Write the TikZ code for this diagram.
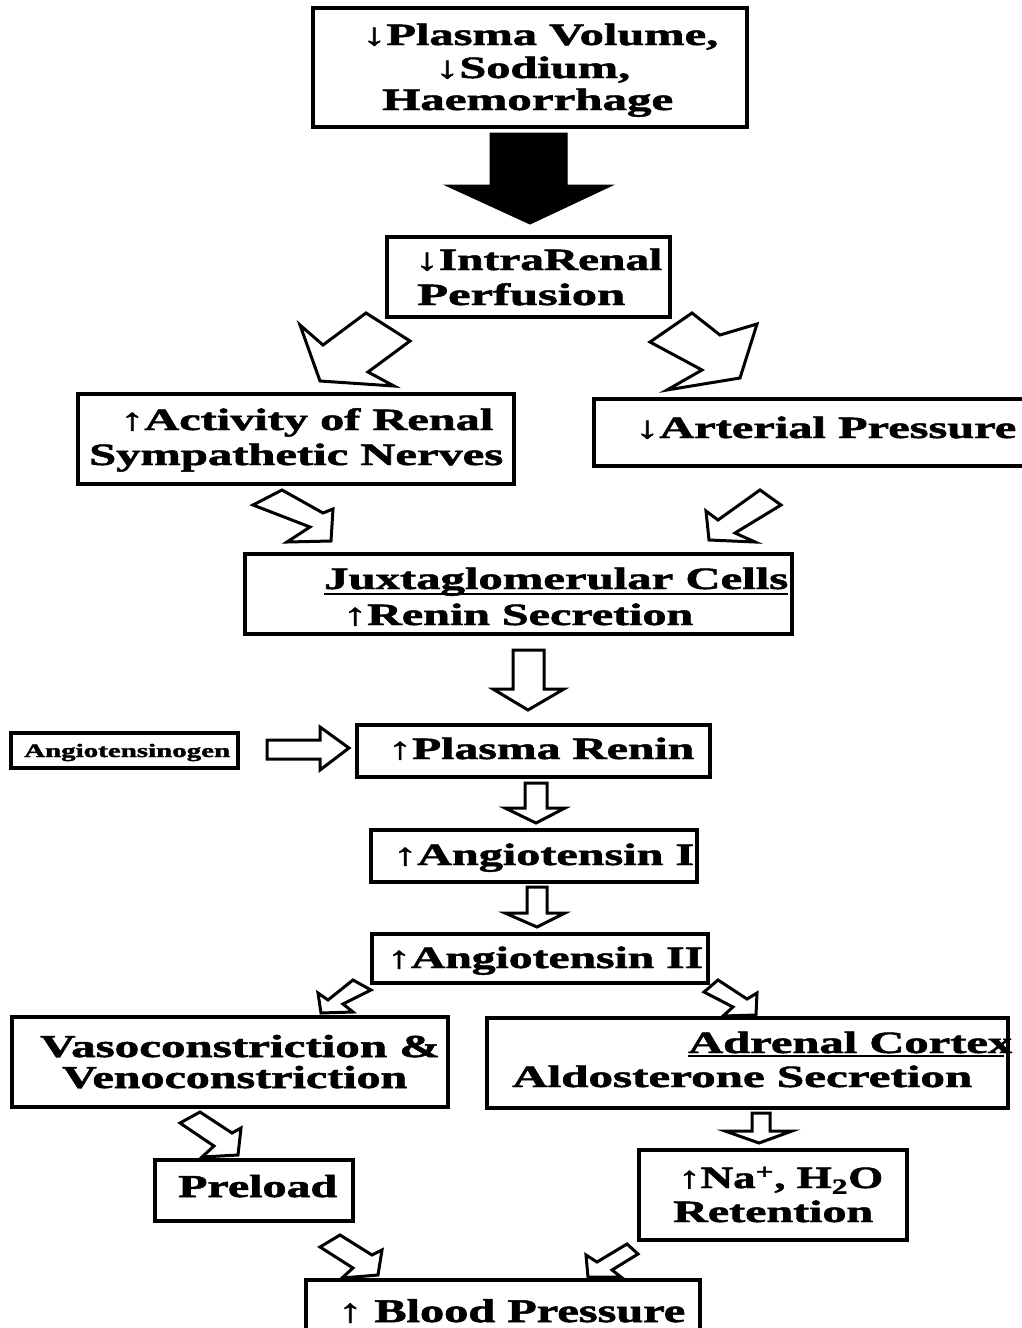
\documentclass[tikz,border=0pt]{standalone}
\usepackage{fontspec}
\setmainfont{Liberation Serif}
\newfontfamily\hv{Liberation Serif}[BoldFeatures={FakeBold=1.5}]
\usepackage{graphicx}
\newcommand\bx[5]{\node[box, minimum width={(#4-#2)*1pt}, minimum height={(#5-#3)*1pt}] (#1) at ({(#2+#4)/2},{(#3+#5)/2}) {};}
\newcommand\txt[6]{\node[anchor=base west, inner sep=0pt, font=\fontsize{#5}{#5}\selectfont\hv\bfseries] (#1) at (#2,#3) {\resizebox{#4pt}{\height}{#6}};}
\newcommand\varr[8]{\draw[harrow] (#2,#4) -- (#3,#4) -- (#3,#5) -- (#7,#5) -- (#8,#6) -- (#1,#5) -- (#2,#5) -- cycle;}
\begin{document}
\begin{tikzpicture}[x=1pt,y=-1pt,
  box/.style={draw, line width=4pt, inner sep=0pt, rectangle},
  harrow/.style={draw, line width=3pt, fill=white, line join=miter},
  uline/.style={draw, line width=2pt}]
\useasboundingbox[fill=white] (0,0) rectangle (1021,1328);

% boxes
\bx{top}{313}{8}{747}{127}
\bx{intra}{387}{237}{670}{317}
\bx{activity}{78}{394}{514}{484}
\bx{arterial}{594}{399}{1040}{466}
\bx{jux}{245}{554}{792}{634}
\bx{angen}{11}{733}{238}{768}
\bx{prenin}{357}{725}{710}{777}
\bx{angI}{371}{830}{697}{882}
\bx{angII}{372}{934}{708}{983}
\bx{vaso}{12}{1017}{448}{1107}
\bx{adrenal}{487}{1018}{1008}{1108}
\bx{preload}{155}{1160}{353}{1221}
\bx{na}{639}{1150}{907}{1240}
\bx{bp}{306}{1280}{700}{1345}

% texts
\txt{t1a}{362}{45}{356}{31}{↓Plasma Volume,}
\txt{t1b}{435}{78}{195}{31}{↓Sodium,}
\txt{t1c}{382}{110}{291}{31}{Haemorrhage}
\txt{t2a}{415}{270}{247}{31}{↓IntraRenal}
\txt{t2b}{417}{305}{208}{31}{Perfusion}
\txt{t3a}{120}{430}{373}{31}{↑Activity of Renal}
\txt{t3b}{89}{465}{414}{31}{Sympathetic Nerves}
\txt{t4}{635}{438}{381}{31}{↓Arterial Pressure}
\txt{t5a}{324}{589}{464}{31}{Juxtaglomerular Cells}
\txt{t5b}{343}{625}{350}{31}{↑Renin Secretion}
\txt{t6}{24}{757}{206}{19}{Angiotensinogen}
\txt{t7}{388}{759}{306}{31}{↑Plasma Renin}
\txt{t8}{393}{865}{301}{31}{↑Angiotensin I}
\txt{t9}{387}{968}{316}{31}{↑Angiotensin II}
\txt{t10a}{40}{1057}{400}{32}{Vasoconstriction \&}
\txt{t10b}{62}{1088}{345}{32}{Venoconstriction}
\txt{t11a}{688}{1053}{324}{31}{Adrenal Cortex}
\txt{t11b}{512}{1087}{460}{31}{Aldosterone Secretion}
\txt{t12}{178}{1197}{159}{32}{Preload}
\txt{t13a}{678}{1188}{205}{31}{↑Na\textsuperscript{+}, H\textsubscript{2}O}
\txt{t13b}{673}{1222}{200}{31}{Retention}
\txt{t14}{338}{1322}{347}{33}{↑ Blood Pressure}

% underlines
\draw[uline] (t5a.base west) ++(0,5) -- ++(464,0);
\draw[uline] (t11a.base west) ++(0,3) -- ++(316,0);

% big black arrow
\draw[line width=1pt, fill=black] (490,133) -- (567,133) -- (567,185) -- (613,185) -- (530,224) -- (445,185) -- (490,185) -- cycle;

% chevron arrows from IntraRenal
\draw[harrow] (300,325) -- (323,345) -- (366,313) -- (410,341) -- (368,372) -- (394,386) -- (320,381) -- cycle;
\draw[harrow] (650,342) -- (692,313) -- (720,335) -- (757,324) -- (740,378) -- (667,390) -- (702,370) -- cycle;

% diagonal arrows into Jux
\draw[harrow] (253,505) -- (282,490) -- (323,513) -- (333,509) -- (331,541) -- (287,542) -- (310,527) -- cycle;
\draw[harrow] (760,490) -- (781,505) -- (735,533) -- (755,542) -- (709,540) -- (706,511) -- (718,520) -- cycle;

% vertical arrows: wingL, stemL, stemR, top, shoulder, tip-y, wingR, tip-x
\varr{493}{513}{544}{650}{689}{710}{564}{528}
\varr{505}{525}{547}{783}{808}{823}{565}{536}
\varr{505}{527}{547}{887}{913}{927}{565}{537}
\varr{725}{752}{770}{1113}{1131}{1143}{792}{759}

% angiotensinogen arrow
\draw[harrow] (267,740) -- (320,740) -- (320,727) -- (349,748) -- (320,770) -- (320,759) -- (267,759) -- cycle;

% arrows from Angiotensin II
\draw[harrow] (353,980) -- (371,990) -- (343,1004) -- (353,1012) -- (321,1013) -- (318,993) -- (328,1000) -- cycle;
\draw[harrow] (704,992) -- (718,980) -- (747,999) -- (757,993) -- (756,1015) -- (723,1016) -- (733,1007) -- cycle;

% vaso -> preload
\draw[harrow] (180,1123) -- (200,1112) -- (232,1133) -- (241,1128) -- (238,1155) -- (202,1157) -- (214,1146) -- cycle;

% into blood pressure
\draw[harrow] (320,1247) -- (340,1235) -- (372,1255) -- (382,1250) -- (378,1275) -- (342,1278) -- (353,1268) -- cycle;
\draw[harrow] (627,1244) -- (638,1254) -- (612,1270) -- (621,1277) -- (588,1277) -- (586,1255) -- (597,1262) -- cycle;
\end{tikzpicture}
\end{document}
